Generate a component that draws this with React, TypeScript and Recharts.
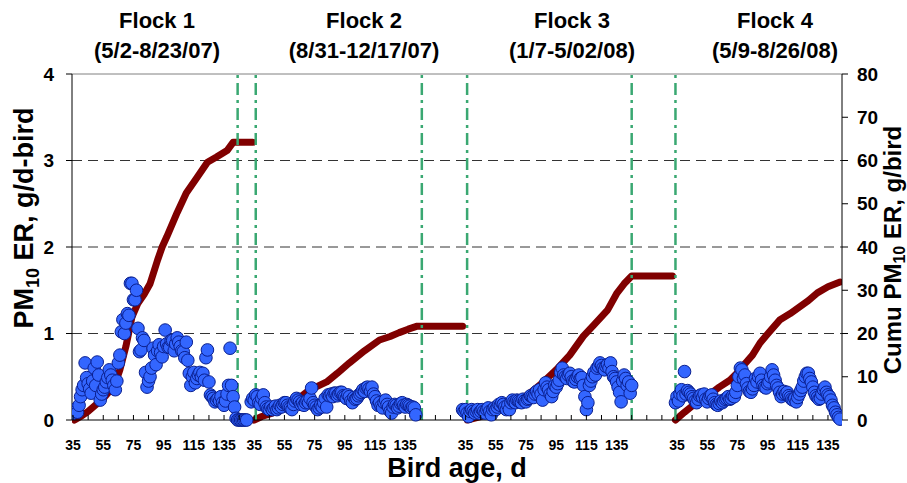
import React from "react";
import { ComposedChart, Scatter, Line, XAxis, YAxis, ReferenceLine } from "recharts";

const FONT = "Arial, 'Liberation Sans', Helvetica, sans-serif";

const flockNames = ["Flock 1", "Flock 2", "Flock 3", "Flock 4"];
const flockDates = ["(5/2-8/23/07)", "(8/31-12/17/07)", "(1/7-5/02/08)", "(5/9-8/26/08)"];
const flockTitleX = [157, 364, 572, 775];
// position offset of each flock along the shared age axis
const flockOffsets = [0, 120, 260, 400];
const ageLabels = [35, 55, 75, 95, 115, 135];

// Daily PM10 emission rate, g/d-bird (left axis)
const flock1FirstDay = 35;
const flock1ER = [
  0.08, 0.12, 0.10, 0.09, 0.17, 0.27, 0.35, 0.40, 0.66, 0.49,
  0.42, 0.36, 0.31, 0.45, 0.60, 0.40, 0.67, 0.52, 0.23, 0.30,
  0.35, 0.38, 0.44, 0.49, 0.58, 0.52, 0.46, 0.40, 0.35, 0.45,
  0.66, 0.75, 1.02, 1.16, 1.00, 1.12, 1.23, 1.21, 1.58, 1.58,
  1.39, 1.39, 1.50, 1.06, 0.79, 0.81, 0.95, 0.92, 0.55, 0.38,
  0.45, 0.50, 0.60, 0.83, 0.75, 0.64, 0.80, 0.87, 0.78, 0.73,
  0.85, 1.04, 0.88, 0.84, 0.84, 0.92, 0.92, 0.80, 0.88, 0.95,
  0.90, 0.85, 0.80, 0.79, 0.72, 0.90, 0.69, 0.54, 0.40, 0.50,
  0.55, 0.43, 0.48, 0.52, 0.55, 0.50, 0.54, 0.46, 0.72, 0.81,
  0.44, 0.29, 0.27, 0.25, 0.21, 0.23, 0.25, 0.22, 0.27, 0.20,
  0.17, 0.22, 0.30, 0.40, 0.83, 0.40, 0.27, 0.15, 0.02, 0.0,
  0.0, 0.0, 0.0, 0.0, 0.0, 0.0,
];

const flock2FirstDay = 33;
const flock2ER = [
  0.21, 0.25, 0.23, 0.29, 0.27, 0.20, 0.18, 0.25, 0.29, 0.20,
  0.15, 0.13, 0.12, 0.15, 0.12, 0.14, 0.16, 0.12, 0.14, 0.17,
  0.15, 0.18, 0.20, 0.20, 0.17, 0.15, 0.14, 0.12, 0.18, 0.22,
  0.25, 0.23, 0.21, 0.18, 0.20, 0.17, 0.20, 0.22, 0.20, 0.25,
  0.37, 0.20, 0.17, 0.15, 0.12, 0.14, 0.17, 0.15, 0.20, 0.25,
  0.15, 0.29, 0.28, 0.30, 0.27, 0.31, 0.31, 0.28, 0.30, 0.32,
  0.32, 0.28, 0.27, 0.25, 0.29, 0.27, 0.22, 0.20, 0.26, 0.24,
  0.25, 0.28, 0.30, 0.32, 0.35, 0.33, 0.37, 0.38, 0.36, 0.33,
  0.38, 0.30, 0.27, 0.22, 0.17, 0.20, 0.16, 0.14, 0.20, 0.23,
  0.18, 0.15, 0.10, 0.08, 0.15, 0.18, 0.17, 0.14, 0.16, 0.19,
  0.20, 0.17, 0.15, 0.18, 0.17, 0.16, 0.14, 0.15, 0.14, 0.06,
];

const flock3FirstDay = 33;
const flock3ER = [
  0.12, 0.10, 0.12, 0.08, 0.04, 0.10, 0.12, 0.10, 0.08, 0.10,
  0.12, 0.08, 0.10, 0.12, 0.10, 0.08, 0.12, 0.14, 0.10, 0.06,
  0.12, 0.14, 0.12, 0.15, 0.18, 0.17, 0.20, 0.18, 0.15, 0.12,
  0.17, 0.12, 0.20, 0.23, 0.21, 0.20, 0.23, 0.22, 0.21, 0.20,
  0.24, 0.22, 0.21, 0.24, 0.25, 0.28, 0.27, 0.26, 0.30, 0.33,
  0.30, 0.35, 0.30, 0.23, 0.35, 0.43, 0.38, 0.35, 0.30, 0.27,
  0.33, 0.40, 0.38, 0.42, 0.46, 0.55, 0.60, 0.52, 0.50, 0.48,
  0.52, 0.54, 0.50, 0.45, 0.44, 0.47, 0.50, 0.52, 0.48, 0.49,
  0.40, 0.27, 0.12, 0.20, 0.40, 0.45, 0.50, 0.55, 0.52, 0.60,
  0.62, 0.66, 0.63, 0.60, 0.58, 0.62, 0.64, 0.60, 0.66, 0.56,
  0.50, 0.48, 0.44, 0.38, 0.32, 0.21, 0.45, 0.52, 0.48, 0.40,
  0.44, 0.31, 0.40,
];

const flock4FirstDay = 34;
const flock4ER = [
  0.20, 0.27, 0.22, 0.30, 0.35, 0.28, 0.56, 0.30, 0.34, 0.32,
  0.30, 0.27, 0.25, 0.22, 0.20, 0.24, 0.28, 0.29, 0.26, 0.30,
  0.24, 0.21, 0.25, 0.28, 0.29, 0.24, 0.20, 0.18, 0.17, 0.19,
  0.22, 0.20, 0.22, 0.24, 0.25, 0.27, 0.24, 0.25, 0.28, 0.27,
  0.32, 0.40, 0.50, 0.60, 0.58, 0.48, 0.52, 0.42, 0.37, 0.33,
  0.32, 0.36, 0.40, 0.48, 0.44, 0.50, 0.54, 0.46, 0.40, 0.38,
  0.37, 0.42, 0.44, 0.50, 0.58, 0.52, 0.46, 0.40, 0.37, 0.32,
  0.27, 0.30, 0.33, 0.30, 0.32, 0.28, 0.26, 0.24, 0.23, 0.25,
  0.21, 0.26, 0.30, 0.34, 0.38, 0.45, 0.50, 0.54, 0.54, 0.48,
  0.44, 0.38, 0.32, 0.28, 0.26, 0.24, 0.25, 0.30, 0.35, 0.38,
  0.32, 0.29, 0.27, 0.23, 0.17, 0.14, 0.09, 0.06, 0.03, 0.01,
];

// Cumulative PM10 emission, g/bird (right axis)
const flock1CumDays = [36, 40, 45, 50, 55, 60, 63, 66, 70, 74, 78, 82, 86, 91, 94, 97, 104, 110, 117, 124, 130, 137, 141, 154];
const flock1Cum = [0, 0.8, 2, 3.5, 5, 7, 8.5, 11.6, 17, 23.8, 27, 29, 31.5, 37, 40, 42.3, 48, 52.5, 56, 59.6, 60.8, 62.3, 64.2, 64.2];
const flock2CumDays = [35, 40, 47, 53, 59, 65, 70, 75, 83, 90, 98, 108, 118, 125, 131, 137, 143, 173];
const flock2Cum = [0, 0.8, 1.6, 2.6, 3.7, 5.2, 6.5, 7.5, 8.8, 10.8, 13.2, 16, 18.5, 19.3, 20.2, 21.0, 21.7, 21.7];
const flock3CumDays = [36, 45, 53, 64, 70, 76, 85, 95, 104, 113, 120, 129, 135, 140, 145, 172];
const flock3Cum = [0, 0.8, 1.6, 3.5, 4.5, 5.8, 8.3, 11.6, 15, 19.4, 22, 25.4, 29.2, 31.5, 33.3, 33.3];
const flock4CumDays = [34, 40, 46, 55, 63, 70, 75, 80, 85, 90, 96, 103, 110, 116, 122, 128, 135, 143];
const flock4Cum = [0, 1.8, 3.5, 5.5, 7.6, 9.2, 10.9, 13, 15, 17.8, 20.3, 23.1, 24.6, 26.1, 27.6, 29.4, 30.8, 31.9];

// Flock start / end markers: [flock index, bird age]
const flockBoundaries: [number, number][] = [
  [0, 144], [1, 36], [1, 146], [2, 36], [2, 145], [3, 34],
];

const leftTicks = [0, 1, 2, 3, 4];
const rightTicks = [0, 10, 20, 30, 40, 50, 60, 70, 80];
const gridValues = [1, 2, 3];

const erSeries = [
  { first: flock1FirstDay, values: flock1ER, flock: 0 },
  { first: flock2FirstDay, values: flock2ER, flock: 1 },
  { first: flock3FirstDay, values: flock3ER, flock: 2 },
  { first: flock4FirstDay, values: flock4ER, flock: 3 },
];
const cumSeries = [
  { days: flock1CumDays, values: flock1Cum, flock: 0 },
  { days: flock2CumDays, values: flock2Cum, flock: 1 },
  { days: flock3CumDays, values: flock3Cum, flock: 2 },
  { days: flock4CumDays, values: flock4Cum, flock: 3 },
];

const erPoints = erSeries.map((s) =>
  s.values.map((v, i) => ({ x: s.first + i + flockOffsets[s.flock], y: v }))
);
const cumPoints = cumSeries.map((s) =>
  s.days.map((d, i) => ({ x: d + flockOffsets[s.flock], y: s.values[i] }))
);

const xTicks: number[] = [];
for (let p = 35; p <= 535; p += 10) xTicks.push(p);

function ageLabel(pos: number): string {
  for (let f = flockOffsets.length - 1; f >= 0; f--) {
    const age = pos - flockOffsets[f];
    if (age >= 35 && ageLabels.indexOf(age) >= 0) return String(age);
  }
  return "";
}

const XTick = (props: any) => {
  const { x, y, payload } = props;
  const label = ageLabel(payload.value);
  return (
    <g>
      <line x1={x} x2={x} y1={y} y2={y - 5} stroke="#000" strokeWidth={1} />
      {label && (
        <text x={x} y={y + 30} textAnchor="middle" fontFamily={FONT} fontWeight="bold" fontSize={14} fill="#000">
          {label}
        </text>
      )}
    </g>
  );
};

const Dot = (props: any) => {
  const { cx, cy } = props;
  if (cx == null || cy == null) return null;
  return <circle cx={cx} cy={cy} r={6.3} fill="#3366FF" stroke="#0A1F8F" strokeWidth={1} />;
};

export default function App() {
  return (
    <div style={{ position: "absolute", left: 0, top: 0, width: 907, height: 483, background: "#fff" }}>
      <ComposedChart width={907} height={483} margin={{ top: 74, right: 0, bottom: 0, left: 0 }}>
        <XAxis
          type="number"
          dataKey="x"
          domain={[34.3, 544.3]}
          allowDataOverflow
          ticks={xTicks}
          interval={0}
          tick={<XTick />}
          tickLine={false}
          tickSize={0}
          tickMargin={0}
          height={63}
          axisLine={{ stroke: "#000", strokeWidth: 1 }}
        />
        <YAxis
          yAxisId="left"
          orientation="left"
          domain={[0, 4]}
          ticks={leftTicks}
          interval={0}
          width={72}
          tickSize={6}
          tickMargin={12}
          axisLine={{ stroke: "#000" }}
          tickLine={{ stroke: "#000" }}
          tick={{ fill: "#000", fontFamily: FONT, fontWeight: "bold", fontSize: 19 }}
        />
        <YAxis
          yAxisId="right"
          orientation="right"
          domain={[0, 80]}
          ticks={rightTicks}
          interval={0}
          width={65}
          tickSize={6}
          tickMargin={9}
          axisLine={{ stroke: "#000" }}
          tickLine={{ stroke: "#000" }}
          tick={{ fill: "#000", fontFamily: FONT, fontWeight: "bold", fontSize: 19 }}
        />
        {gridValues.map((g) => (
          <ReferenceLine key={"g" + g} y={g} yAxisId="left" stroke="#333" strokeWidth={1} strokeDasharray="10 6" />
        ))}
        <ReferenceLine y={4} yAxisId="left" stroke="#808080" strokeWidth={1} />
        {cumPoints.map((pts, i) => (
          <Line
            key={"c" + i}
            data={pts}
            dataKey="y"
            yAxisId="right"
            type="linear"
            stroke="#800000"
            strokeWidth={7}
            strokeLinecap="round"
            strokeLinejoin="round"
            dot={false}
            activeDot={false}
            isAnimationActive={false}
          />
        ))}
        {erPoints.map((pts, i) => (
          <Scatter key={"s" + i} data={pts} dataKey="y" yAxisId="left" shape={<Dot />} isAnimationActive={false} />
        ))}
        {flockBoundaries.map(([f, d], i) => (
          <ReferenceLine
            key={"b" + i}
            x={d + flockOffsets[f]}
            yAxisId="left"
            stroke="#3AA872"
            strokeWidth={2.5}
            strokeDasharray="12 5 3 5"
          />
        ))}
      </ComposedChart>
      <svg width={907} height={483} style={{ position: "absolute", left: 0, top: 0, pointerEvents: "none" }}>
        {flockNames.map((n, i) => (
          <g key={n}>
            <text x={flockTitleX[i]} y={28} textAnchor="middle" fontFamily={FONT} fontWeight="bold" fontSize={22} fill="#000">
              {n}
            </text>
            <text x={flockTitleX[i]} y={58} textAnchor="middle" fontFamily={FONT} fontWeight="bold" fontSize={22} fill="#000">
              {flockDates[i]}
            </text>
          </g>
        ))}
        <text x={457} y={477} textAnchor="middle" fontFamily={FONT} fontWeight="bold" fontSize={27} fill="#000">
          Bird age, d
        </text>
        <text transform="translate(33,218) rotate(-90)" textAnchor="middle" fontFamily={FONT} fontWeight="bold" fontSize={27} fill="#000">
          PM<tspan fontSize={18} dy={6}>10</tspan>
          <tspan dy={-6}> ER, g/d-bird</tspan>
        </text>
        <text transform="translate(901,250) rotate(-90)" textAnchor="middle" fontFamily={FONT} fontWeight="bold" fontSize={24} fill="#000">
          Cumu PM<tspan fontSize={16} dy={4}>10</tspan>
          <tspan dy={-4}> ER, g/bird</tspan>
        </text>
      </svg>
    </div>
  );
}
